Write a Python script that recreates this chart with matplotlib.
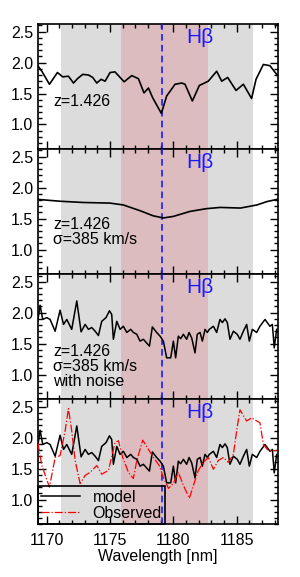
import numpy as np
import matplotlib
matplotlib.use("Agg")
import matplotlib.pyplot as plt
from matplotlib.ticker import MultipleLocator

plt.rcParams['font.family'] = ['Liberation Sans', 'DejaVu Sans']

"""Data read off the figure"""
# panel 1: smooth model spectrum
wl_smooth = [1169.29, 1169.61, 1170.21, 1170.84, 1171.26, 1171.71, 1172.11, 1172.42, 1172.84, 1173.29,
             1173.63, 1173.95, 1174.29, 1174.61, 1175.00, 1175.39, 1176.11, 1176.71, 1177.24, 1177.68,
             1178.03, 1178.37, 1179.05, 1179.47, 1180.13, 1180.66, 1180.92, 1181.50, 1182.05, 1182.76,
             1183.42, 1183.82, 1184.29, 1184.95, 1185.53, 1186.18, 1186.53, 1187.11, 1187.63, 1188.16]
fl_smooth = [1.95, 1.86, 1.65, 1.84, 1.77, 1.78, 1.67, 1.74, 1.81, 1.80,
             1.76, 1.67, 1.73, 1.70, 1.84, 1.85, 1.69, 1.79, 1.74, 1.51,
             1.59, 1.43, 1.18, 1.46, 1.65, 1.67, 1.65, 1.38, 1.63, 1.70,
             1.86, 1.70, 1.76, 1.55, 1.65, 1.42, 1.73, 1.97, 1.95, 1.81]

# panel 2: broadened model
wl_broad = [1169.29, 1171.05, 1172.9, 1175.0, 1176.05, 1177.4, 1178.4, 1179.2, 1180.0,
            1181.3, 1182.6, 1183.7, 1185.3, 1186.6, 1187.4, 1188.2]
fl_broad = [1.81, 1.78, 1.76, 1.75, 1.72, 1.625, 1.545, 1.51, 1.535,
            1.615, 1.66, 1.68, 1.67, 1.72, 1.775, 1.81]

# panel 3/4: broadened model with noise
wl_noise = [1169.29, 1169.47, 1169.68, 1170.00, 1170.26, 1170.66, 1171.05, 1171.32, 1171.58, 1171.97,
            1172.37, 1172.71, 1173.03, 1173.29, 1173.55, 1173.82, 1174.08, 1174.34, 1174.68, 1174.95,
            1175.13, 1175.26, 1175.53, 1175.79, 1176.05, 1176.32, 1176.63, 1176.84, 1177.11, 1177.37,
            1177.63, 1177.89, 1178.11, 1178.34, 1178.68, 1178.95, 1179.21, 1179.47, 1179.79, 1180.00,
            1180.18, 1180.39, 1180.58, 1180.79, 1181.05, 1181.24, 1181.45, 1181.71, 1181.89, 1182.11,
            1182.29, 1182.50, 1182.68, 1182.84, 1183.16, 1183.42, 1183.68, 1183.87, 1184.08, 1184.26,
            1184.47, 1184.74, 1185.05, 1185.26, 1185.53, 1185.79, 1186.00, 1186.24, 1186.58, 1186.84,
            1187.24, 1187.63, 1187.82, 1187.97, 1188.16]
fl_noise = [1.865, 2.12, 1.89, 1.92, 1.89, 1.70, 2.04, 1.81, 1.89, 1.73,
            2.19, 1.69, 1.81, 1.73, 1.76, 1.70, 1.63, 1.86, 1.92, 2.03,
            1.97, 1.57, 1.86, 1.73, 1.78, 1.68, 1.73, 1.68, 1.65, 1.54,
            1.57, 1.51, 1.46, 1.77, 1.68, 1.62, 1.54, 1.27, 1.27, 1.54,
            1.27, 1.62, 1.58, 1.65, 1.57, 1.68, 1.59, 1.35, 1.65, 1.68,
            1.54, 1.73, 1.68, 1.73, 1.78, 1.68, 1.89, 1.84, 1.90, 1.84,
            1.57, 1.70, 1.65, 1.57, 1.70, 1.81, 1.54, 1.73, 1.68, 1.78,
            1.89, 1.78, 1.81, 1.43, 1.73]

# panel 4: observed spectrum
wl_obs = [1169.29, 1169.61, 1170.21, 1170.66, 1171.05, 1171.45, 1171.71, 1171.97, 1172.24, 1172.63,
          1173.03, 1173.42, 1173.95, 1174.34, 1174.87, 1175.39, 1175.66, 1176.00, 1176.45, 1176.84,
          1177.11, 1177.58, 1178.03, 1178.42, 1178.89, 1179.21, 1179.61, 1180.00, 1180.39, 1180.79,
          1181.26, 1181.71, 1181.97, 1182.37, 1182.76, 1183.16, 1183.55, 1183.95, 1184.34, 1184.74,
          1185.00, 1185.26, 1185.79, 1186.18, 1186.58, 1186.84, 1187.11, 1187.50, 1188.16]
fl_obs = [1.92, 1.55, 1.20, 1.68, 1.71, 2.11, 2.47, 2.11, 1.63, 1.26,
          1.39, 1.44, 1.55, 1.41, 1.47, 1.92, 1.95, 1.68, 1.44, 1.34,
          1.63, 1.96, 1.81, 1.68, 1.55, 1.36, 1.18, 1.26, 1.44, 1.23,
          1.02, 1.31, 1.47, 1.60, 1.68, 1.49, 1.63, 1.68, 1.60, 1.73,
          2.11, 2.45, 2.27, 2.32, 2.27, 2.24, 1.89, 1.79, 1.79]

hbeta = 1179.1
gray_band = (1171.13, 1186.26)
red_band = (1175.89, 1182.70)
labels = [["z=1.426"],
          ["z=1.426", "\u03c3=385 km/s"],
          ["z=1.426", "\u03c3=385 km/s", "with noise"],
          []]
label_y = [[0.38], [0.395, 0.275], [0.385, 0.26, 0.14], []]

"""Plotting"""
fs = 11.5
fig = plt.figure(figsize=(3.0, 5.77), dpi=100)
left, width = 0.126, 0.80
bottom, ptop = 0.0913, 0.958
h = (ptop - bottom) / 4
axes = []
for i in range(4):
    ax = fig.add_axes([left, ptop - (i + 1) * h, width, h])
    axes.append(ax)

for i, ax in enumerate(axes):
    ax.axvspan(*gray_band, color='#dcdcdc', lw=0, zorder=0)
    ax.axvspan(*red_band, color='#dcbcbf', lw=0, zorder=1)
    ax.axvline(hbeta, color='#1a1aff', ls=(0, (4, 2.5)), lw=1.2, zorder=4)
    ax.text(1182.1, 0.895, "H\u03b2", color='#1a1aff', fontsize=15,
            transform=ax.get_xaxis_transform(), ha='center', va='center')
    for t, yy in zip(labels[i], label_y[i]):
        ax.text(0.063, yy, t, transform=ax.transAxes, fontsize=fs, va='center')
    ax.set_xlim(1169.29, 1188.25)
    ax.set_ylim(0.6, 2.62)
    ax.xaxis.set_major_locator(MultipleLocator(5))
    ax.xaxis.set_minor_locator(MultipleLocator(1))
    ax.yaxis.set_major_locator(MultipleLocator(0.5))
    ax.yaxis.set_minor_locator(MultipleLocator(0.1))
    ax.tick_params(which='both', direction='in', top=True, right=True, labelsize=fs, width=1)
    ax.tick_params(which='major', length=6)
    ax.tick_params(which='minor', length=3)
    ax.tick_params(axis='x', pad=6)
    for s in ax.spines.values():
        s.set_linewidth(1.2)
    if i < 3:
        ax.tick_params(labelbottom=False)

axes[0].plot(wl_smooth, fl_smooth, color='k', lw=1.2, zorder=5)
axes[1].plot(wl_broad, fl_broad, color='k', lw=1.2, zorder=5)
axes[2].plot(wl_noise, fl_noise, color='k', lw=1.1, zorder=5)
axes[3].plot(wl_noise, fl_noise, color='k', lw=1.1, zorder=5, label='model')
axes[3].plot(wl_obs, fl_obs, color='red', lw=0.9, ls='-.', zorder=5, label='Observed')

leg = axes[3].legend(loc='lower left', fontsize=fs, frameon=True, fancybox=False,
                     facecolor='none', edgecolor='k', framealpha=1, borderaxespad=0,
                     handlelength=2.4, handletextpad=0.8, labelspacing=0.05, borderpad=0.22)
leg.get_frame().set_linewidth(1.2)
leg.set_zorder(6)

axes[3].set_xlabel("Wavelength [nm]", fontsize=fs, labelpad=1)

fig.savefig("out.png", dpi=100)
